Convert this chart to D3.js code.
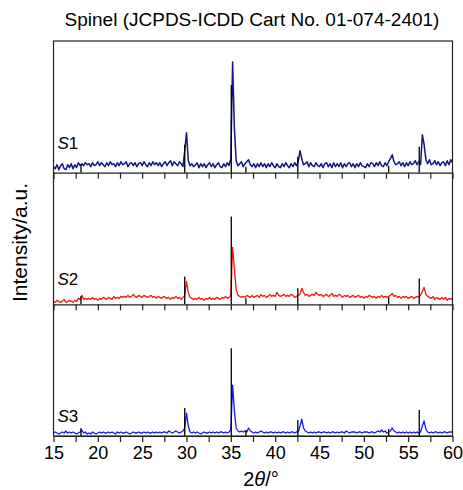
<!DOCTYPE html>
<html>
<head>
<meta charset="utf-8">
<script src="https://cdn.jsdelivr.net/npm/d3@7"></script>
<style>
  body { margin: 0; background: #fff; }
  svg { display: block; font-family: "Liberation Sans", Arial, sans-serif; }
</style>
</head>
<body>
<div id="chart"></div>
<script>
// 2theta grid, 0.2 deg steps from 15 to 60
const twoTheta = d3.range(0, 226).map(i => +(15 + i * 0.2).toFixed(1));

// measured intensities (a.u.), one value per grid point
const s1 = [
  6,4,8,3,7,9,4,3,8,5,
  9,4,8,5,10,7,9,7,10,8,
  9,6,10,7,8,11,7,10,8,6,
  10,7,11,8,9,6,10,7,11,8,
  9,11,6,9,10,7,10,6,9,10,
  7,11,8,6,10,7,11,8,10,7,
  10,6,9,11,7,10,12,7,11,9,
  7,11,9,6,22,40,12,7,9,6,
  8,10,5,9,6,9,5,8,10,6,
  9,5,8,10,6,5,9,6,10,7,
  14,111,45,12,7,9,11,6,9,11,
  13,8,6,9,5,9,6,10,6,9,
  5,9,6,10,7,5,9,6,5,9,
  6,10,7,5,9,6,10,7,11,22,
  14,8,9,11,6,10,7,6,10,7,
  6,9,5,9,10,6,9,5,10,6,
  9,6,10,5,9,6,9,10,6,9,
  5,9,6,10,7,6,5,9,6,10,
  9,6,10,7,11,7,6,10,7,11,
  14,18,11,8,9,11,7,10,6,10,
  7,11,8,9,12,8,11,8,38,28,
  13,9,13,8,9,12,8,11,7,10,
  11,7,12,8,13,10
];

const s2 = [
  3,2,4,3,2,3,5,2,3,4,
  3,2,4,3,6,5,9,5,6,5,
  6,5,7,5,6,4,6,5,7,6,
  5,7,6,5,8,6,7,6,8,7,
  8,7,9,7,8,10,8,7,9,8,
  7,9,8,7,8,9,7,8,6,8,
  7,6,8,7,6,7,5,7,6,8,
  6,7,5,7,9,23,12,7,6,5,
  6,5,7,5,6,4,6,5,7,5,
  6,5,7,6,5,7,6,8,6,7,
  9,57,35,15,9,8,7,8,7,9,
  8,7,9,7,8,9,7,10,8,9,
  7,8,10,8,9,8,12,9,8,9,
  10,8,9,8,10,9,7,8,9,10,
  16,12,9,10,8,9,10,9,12,10,
  9,10,8,9,10,8,9,11,8,9,
  8,10,9,7,9,8,9,7,8,9,
  7,8,9,7,8,6,8,7,9,8,
  7,8,6,8,7,9,7,8,7,8,
  9,11,8,9,7,8,6,8,7,8,
  6,7,8,6,7,8,7,9,13,17,
  10,8,7,6,8,5,7,6,5,7,
  5,7,4,6,5,6
];

const s3 = [
  3,4,3,2,3,4,3,5,3,4,
  3,4,3,2,3,4,6,3,4,2,
  3,2,4,3,2,3,4,3,4,3,
  3,4,3,4,3,2,4,3,4,3,
  3,4,3,2,3,4,3,3,4,3,
  3,4,3,4,3,3,4,3,4,3,
  4,3,4,4,3,5,4,3,4,5,
  4,3,4,5,8,23,10,4,3,4,
  3,4,3,2,3,4,3,3,4,3,
  4,3,4,3,4,4,3,4,3,4,
  6,51,25,8,5,4,5,4,5,4,
  8,5,4,3,4,3,4,5,4,3,
  4,3,4,4,3,4,3,4,3,4,
  4,3,4,3,4,4,3,4,4,10,
  17,8,5,4,3,4,3,4,3,4,
  4,3,4,4,3,4,3,4,4,3,
  4,3,4,4,3,5,4,3,4,4,
  4,3,4,4,3,4,4,4,3,4,
  4,3,4,5,4,6,4,5,3,4,
  5,8,5,4,3,4,3,4,3,4,
  3,4,3,4,3,4,3,4,10,15,
  7,4,3,4,3,4,4,3,4,3,
  4,4,3,4,4,4
];

// reference card lines
const refPos = [18.1, 29.8, 35.05, 36.7, 42.55, 52.8, 56.25];
const refInt = [8, 28, 88, 6, 16, 7, 26];

const samples = ["1", "2", "3"];
const sampleColors = ["#15158a", "#ff1414", "#1414ff"];
const lineWidths = [1.5, 1.3, 1.3];
const seriesList = [s1, s2, s3];
const labelLift = [24, 19, 14];

const xTicks = d3.range(15, 60.1, 2.5);

const width = 463;
const height = 490;
const padL = 53.5, padR = 452.5, padT = 41, padB = 436;
const panelH = (padB - padT) / 3;

const svg = d3.select("#chart").append("svg")
  .attr("width", width)
  .attr("height", height);

const x = d3.scaleLinear().domain([15, 60]).range([padL, padR]);

svg.append("text")
  .attr("x", (padL + padR) / 2 - 1)
  .attr("y", 26)
  .attr("text-anchor", "middle")
  .style("font-size", "19px")
  .text("Spinel (JCPDS-ICDD Cart No. 01-074-2401)");

seriesList.forEach((vals, k) => {
  const y0 = padT + panelH * (k + 1);
  const y = d3.scaleLinear().domain([0, 132]).range([y0, y0 - panelH]);
  const g = svg.append("g");

  const line = d3.line()
    .x((d, i) => x(twoTheta[i]))
    .y(d => y(d));

  g.append("path")
    .datum(vals)
    .attr("fill", "none")
    .attr("stroke", sampleColors[k])
    .attr("stroke-width", lineWidths[k])
    .attr("stroke-linejoin", "round")
    .attr("d", line);

  g.selectAll("line.ref")
    .data(refPos)
    .enter().append("line")
    .attr("class", "ref")
    .attr("x1", d => x(d))
    .attr("x2", d => x(d))
    .attr("y1", y(0))
    .attr("y2", (d, i) => y(refInt[i]))
    .attr("stroke", "#000")
    .attr("stroke-width", 1.3);

  const axis = d3.axisBottom(x)
    .tickValues(xTicks)
    .tickSize(6)
    .tickSizeOuter(0)
    .tickFormat(d => (k === 2 && d % 5 === 0) ? d : "");

  const ax = g.append("g")
    .attr("transform", `translate(0,${y0})`)
    .call(axis);
  ax.select(".domain").attr("stroke", "#222").attr("stroke-width", 1.2);
  ax.selectAll(".tick line").attr("stroke", "#222").attr("stroke-width", 1.2);
  ax.selectAll(".tick text")
    .attr("fill", "#000")
    .attr("y", 10)
    .style("font-size", "18px")
    .style("font-family", "Liberation Sans, Arial, sans-serif");

  const lab = g.append("text")
    .attr("x", padL + 4)
    .attr("y", y0 - labelLift[k])
    .style("font-size", "17px");
  lab.append("tspan").style("font-style", "italic").text("S");
  lab.append("tspan").text(samples[k]);
});

// frame
svg.append("rect")
  .attr("x", padL)
  .attr("y", padT)
  .attr("width", padR - padL)
  .attr("height", padB - padT)
  .attr("fill", "none")
  .attr("stroke", "#222")
  .attr("stroke-width", 1.2);

svg.append("text")
  .attr("transform", `translate(27,${(padT + padB) / 2 + 4}) rotate(-90)`)
  .attr("text-anchor", "middle")
  .style("font-size", "21px")
  .text("Intensity/a.u.");

const xl = svg.append("text")
  .attr("x", (padL + padR) / 2 + 8)
  .attr("y", 486)
  .attr("text-anchor", "middle")
  .style("font-size", "20px");
xl.append("tspan").text("2");
xl.append("tspan").style("font-style", "italic").text("θ");
xl.append("tspan").text("/°");
</script>
</body>
</html>
